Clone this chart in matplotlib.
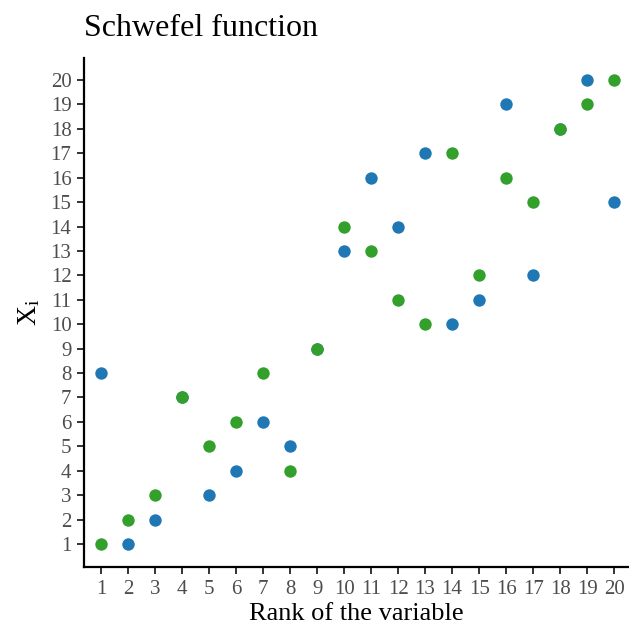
import matplotlib
matplotlib.use("Agg")
import matplotlib.pyplot as plt

plt.rcParams['font.family'] = ['Liberation Serif', 'DejaVu Serif']
plt.rcParams['mathtext.fontset'] = 'custom'
plt.rcParams['mathtext.rm'] = 'Liberation Serif'
plt.rcParams['mathtext.it'] = 'Liberation Serif'

ranks = list(range(1, 21))
blue_vals = [8, 1, 2, 7, 3, 4, 6, 5, 9, 13, 16, 14, 17, 10, 11, 19, 12, 18, 20, 15]
green_vals = [1, 2, 3, 7, 5, 6, 8, 4, 9, 14, 13, 11, 10, 17, 12, 16, 15, 18, 19, 20]
tick_labels = [str(i) for i in ranks]

fig = plt.figure(figsize=(6.29, 6.27), dpi=100)
ax = fig.add_axes([84/629, 60/627, 1 - 84/629, (567-58)/627])

ax.scatter(ranks, blue_vals, s=80, color='#1f78b4', linewidths=0, zorder=3)
ax.scatter(ranks, green_vals, s=80, color='#33a02c', linewidths=0, zorder=4)

ax.set_xlim(0.37, 20.55)
ax.set_ylim(0.06, 20.9)
ax.set_xticks(ranks)
ax.set_xticklabels(tick_labels)
ax.set_yticks(ranks)
ax.set_yticklabels(tick_labels)

for s in ['top', 'right']:
    ax.spines[s].set_visible(False)
for s in ['left', 'bottom']:
    ax.spines[s].set_linewidth(1.6)
    ax.spines[s].set_color('black')

ax.tick_params(axis='both', direction='out', length=5, width=1.4, color='#333333',
               labelcolor='#4d4d4d', labelsize=15, pad=4)

ax.set_xlabel('Rank of the variable', fontsize=19, color='black', labelpad=3)
ax.set_ylabel(r'$\mathrm{X_i}$', fontsize=20, color='black', labelpad=6)
ax.set_title('Schwefel function', fontsize=23, loc='left', x=0.0, pad=16, color='black')

fig.savefig('out.png', dpi=100)
